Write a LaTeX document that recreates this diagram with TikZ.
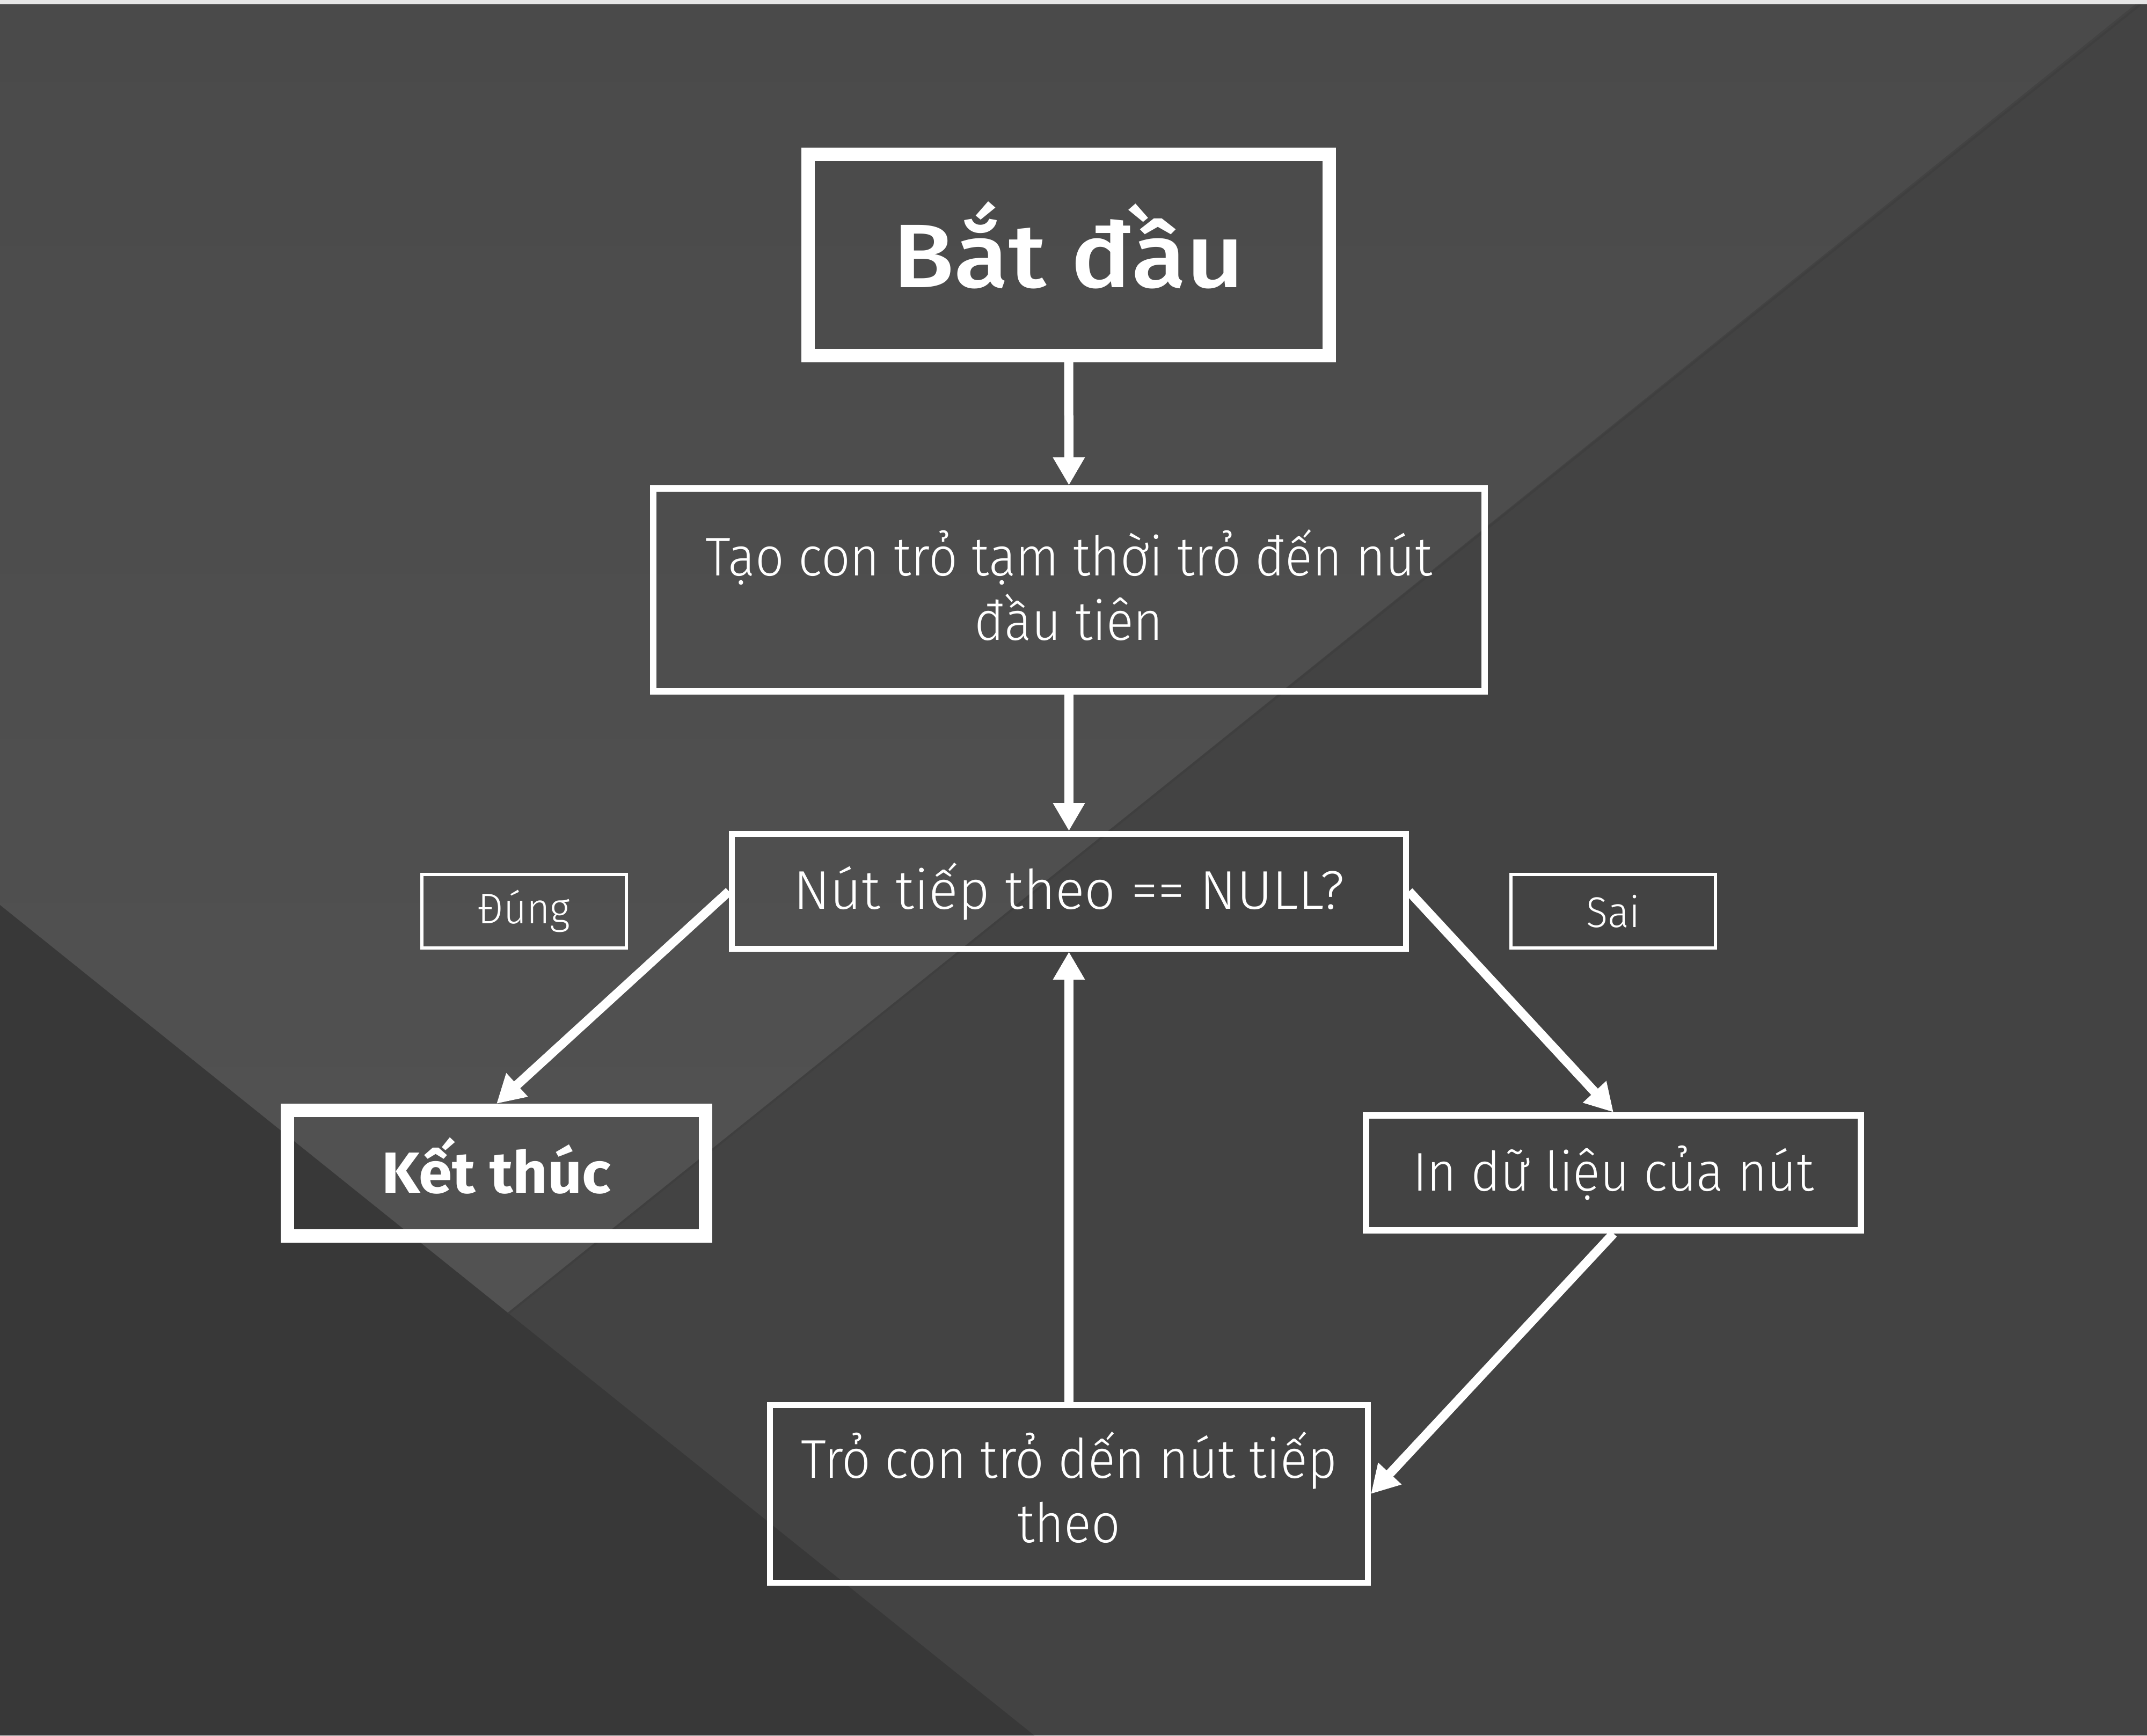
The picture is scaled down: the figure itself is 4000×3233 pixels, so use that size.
\documentclass[tikz,border=0pt]{standalone}
\usepackage{fontspec}
\usetikzlibrary{arrows.meta}
\newfontfamily\fthin{Fira Sans Light}[FakeStretch=0.93]
\newfontfamily\fthinw{Fira Sans Light}
\newfontfamily\fsemi{Fira Sans Medium}[FakeStretch=1.11]
\newfontfamily\fbold{Fira Sans Bold}[FakeStretch=1.04]
\definecolor{bgmid}{HTML}{434343}
\definecolor{bgup}{HTML}{4A4A4A}
\definecolor{bguplight}{HTML}{525252}
\definecolor{bglow}{HTML}{383838}
\definecolor{bgline}{HTML}{3F3F3F}
\definecolor{stripc}{HTML}{E6E6E6}
\newcommand{\dropby}[1]{\rule[-#1]{0pt}{#1}}
\begin{document}
\begin{tikzpicture}[x=0.25pt,y=-0.25pt,
  box/.style={draw=white, text=white, inner sep=0pt, align=center},
  thinbox/.style={box, line width=2.75pt, font=\fthin\fontsize{25.4}{30}\selectfont},
  thickbox/.style={box, line width=6.25pt},
  labelbox/.style={box, line width=1.5pt, minimum width=95.25pt, minimum height=34.25pt, font=\fthin\fontsize{20}{24}\selectfont},
  conn/.style={draw=white, line width=4.25pt, -{Triangle[length=13pt,width=14pt]}}
]
\useasboundingbox (0,0) rectangle (4000,3233);
% background
\fill[bgmid] (0,0) rectangle (4000,3233);
\shade[shading angle=38.6, top color=bgup, bottom color=bguplight] (0,0) -- (3988,0) -- (947,2447) -- (0,1686) -- cycle;
\fill[bglow] (0,1686) -- (1927,3233) -- (0,3233) -- cycle;
\draw[bgline, line width=1pt] (3988,8) -- (947,2447);
\fill[stripc] (0,0) rectangle (4000,8);
% nodes
\node[thickbox, minimum width=242.75pt, minimum height=93.75pt, font=\fsemi\fontsize{42}{50}\selectfont] (B) at (1991,475) {Bắt đầu\dropby{10pt}};
\node[thinbox, line width=3pt, minimum width=387.25pt, minimum height=94.5pt] (T) at (1991.5,1099) {Tạo con trỏ tạm thời trỏ đến nút\\đầu tiên\dropby{5pt}};
\node[thinbox, minimum width=314pt, minimum height=53.5pt, font=\fthinw\fontsize{25.4}{30}\selectfont] (Q) at (1991.5,1660.5) {Nút tiếp theo == NULL?};
\node[thickbox, minimum width=194.75pt, minimum height=58.5pt, font=\fbold\fontsize{27}{32}\selectfont] (K) at (925,2185.5) {Kết thúc\dropby{7.5pt}};
\node[labelbox] (D) at (976.5,1697.5) {Đúng};
\node[labelbox] (S) at (3005.5,1697.5) {Sai};
\node[thinbox, line width=3pt, minimum width=230.5pt, minimum height=53.5pt] (P) at (3006,2185) {In dữ liệu của nút};
\node[thinbox, minimum width=278.5pt, minimum height=82.75pt] (N) at (1991.5,2783) {Trỏ con trỏ dến nút tiếp\\theo\dropby{6.5pt}};
% connectors
\draw[conn] (B.south) -- (T.north);
\draw[conn] (T.south) -- (Q.north);
\draw[conn] (Q.west) -- (K.north);
\draw[conn] (Q.east) -- (P.north);
\draw[conn] (P.south) -- (N.east);
\draw[conn] (N.north) -- (Q.south);
\end{tikzpicture}
\end{document}
